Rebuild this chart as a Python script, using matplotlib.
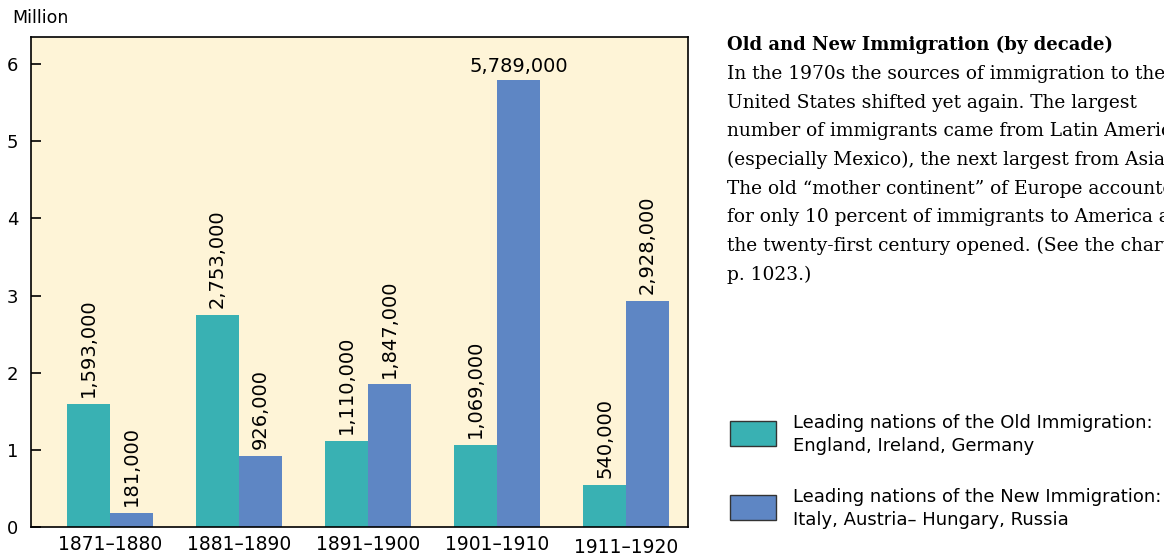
import numpy as np
import matplotlib
matplotlib.use('Agg')
import matplotlib.pyplot as plt
from matplotlib.patches import Rectangle

# data (millions of immigrants per decade)
decades = ['1871–1880', '1881–1890', '1891–1900', '1901–1910', '1911–1920']
old_immigration = [1.593, 2.753, 1.110, 1.069, 0.540]
new_immigration = [0.181, 0.926, 1.847, 5.789, 2.928]
old_labels = ['1,593,000', '2,753,000', '1,110,000', '1,069,000', '540,000']
new_labels = ['181,000', '926,000', '1,847,000', '5,789,000', '2,928,000']

teal = '#39B1B3'
blue = '#5E86C4'
cream = '#FEF4D7'
sans = 'DejaVu Sans'
serif = 'DejaVu Serif'

fig = plt.figure(figsize=(11.64, 5.56), dpi=100)
ax = fig.add_axes([31/1164, 1 - 527/556, 657/1164, 490/556])
ax.set_facecolor(cream)

x = np.arange(len(decades))
w = 0.333
ax.bar(x - w/2, old_immigration, w, color=teal)
ax.bar(x + w/2, new_immigration, w, color=blue)

ax.set_xlim(-0.612, 4.48)
ax.set_ylim(0, 6.35)
ax.set_yticks(range(7))
ax.tick_params(axis='y', direction='in', length=7, width=1.2, labelsize=13, pad=9)
ax.tick_params(axis='x', length=0, labelsize=13.5, pad=6)
ax.set_xticks(x)
ax.set_xticklabels(decades)
for t in ax.get_yticklabels() + ax.get_xticklabels():
    t.set_family(sans)
ax.get_xticklabels()[-1].set_y(-0.006)
for s in ax.spines.values():
    s.set_linewidth(1.2)

# value labels above bars
for xi, v, lab in zip(x - w/2, old_immigration, old_labels):
    ax.annotate(lab, (xi, v), xytext=(0, 5), textcoords='offset points',
                rotation=90, ha='center', va='bottom', fontsize=14, family=sans)
for xi, v, lab in zip(x + w/2, new_immigration, new_labels):
    if v > 5:
        ax.annotate(lab, (xi, v), xytext=(0, 3), textcoords='offset points',
                    ha='center', va='bottom', fontsize=14, family=sans)
    else:
        ax.annotate(lab, (xi, v), xytext=(0, 5), textcoords='offset points',
                    rotation=90, ha='center', va='bottom', fontsize=14, family=sans)

fig.text(12/1164, 1 - 18/556, 'Million', fontsize=12.5, family=sans, va='center')

# caption (runs off the right edge, as in the original page)
fig.text(727/1164, 1 - 45/556, 'Old and New Immigration (by decade)',
         fontsize=13, family=serif, weight='bold', va='center')
body = ['In the 1970s the sources of immigration to the',
        'United States shifted yet again. The largest',
        'number of immigrants came from Latin America',
        '(especially Mexico), the next largest from Asia.',
        'The old “mother continent” of Europe accounted',
        'for only 10 percent of immigrants to America as',
        'the twenty-first century opened. (See the chart on',
        'p. 1023.)']
for i, line in enumerate(body):
    fig.text(727/1164, 1 - (74 + i*28.7)/556, line, fontsize=13.4, family=serif, va='center')

# legend
for y0, col, l1, l2 in [(421, teal, 'Leading nations of the Old Immigration:', 'England, Ireland, Germany'),
                        (495, blue, 'Leading nations of the New Immigration:', 'Italy, Austria– Hungary, Russia')]:
    fig.patches.append(Rectangle((730/1164, 1 - (y0 + 25)/556), 46/1164, 25/556,
                                 transform=fig.transFigure, facecolor=col,
                                 edgecolor='#333333', linewidth=1))
    fig.text(793/1164, 1 - (y0 + 2)/556, l1, fontsize=13, family=sans, va='center')
    fig.text(793/1164, 1 - (y0 + 25)/556, l2, fontsize=13, family=sans, va='center')

fig.savefig('out.png', dpi=100)
